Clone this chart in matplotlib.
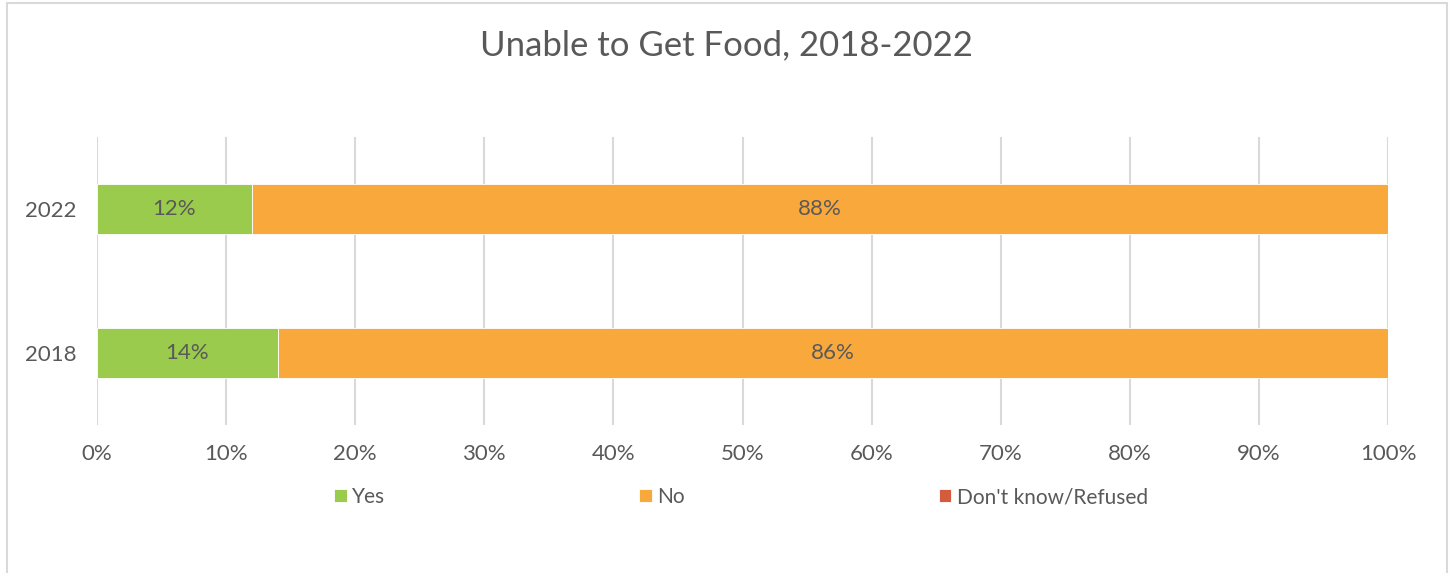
"""Stacked horizontal bar: Unable to Get Food, 2018-2022."""
import matplotlib.pyplot as plt
from matplotlib.patches import Rectangle
from matplotlib.ticker import PercentFormatter, MultipleLocator

YEARS = ["2018", "2022"]
YES = [14, 12]
NO = [86, 88]
DONT_KNOW = [0, 0]

SERIES_LABELS = ["Yes", "No", "Don't know/Refused"]
SERIES_COLORS = ["#9BCB4C", "#F9A83C", "#D55B3E"]
TEXT_COLOR = "#595959"

plt.rcParams["font.family"] = ["Lato", "DejaVu Sans"]

fig = plt.figure(figsize=(14.53, 5.73), dpi=100)
ax = fig.add_axes([97 / 1453, 1 - 425 / 573, 1291 / 1453, 288 / 573])

# chart border
fig.patches.append(Rectangle((7 / 1453, -0.05), 1440 / 1453, 1.05 - 3 / 573,
                             transform=fig.transFigure, fill=False,
                             edgecolor="#D9D9D9", linewidth=1.5))

left = [0] * len(YEARS)
for vals, label, color in zip([YES, NO, DONT_KNOW], SERIES_LABELS, SERIES_COLORS):
    bars = ax.barh(YEARS, vals, left=left, height=0.354, color=color,
                   label=label, edgecolor="white", linewidth=0.6, zorder=3)
    for b, v in zip(bars, vals):
        if v > 0:
            ax.text(b.get_x() + b.get_width() / 2, b.get_y() + b.get_height() / 2,
                    f"{v}%", ha="center", va="center", fontsize=16,
                    color=TEXT_COLOR, zorder=4)
    left = [l + v for l, v in zip(left, vals)]

ax.set_xlim(0, 100)
ax.set_ylim(-0.5, 1.5)
ax.xaxis.set_major_locator(MultipleLocator(10))
ax.xaxis.set_major_formatter(PercentFormatter(decimals=0))
ax.grid(True, axis="x", color="#D9D9D9", linewidth=1.5, zorder=0)
ax.set_axisbelow(True)
for s in ax.spines.values():
    s.set_visible(False)
ax.tick_params(axis="both", length=0, labelsize=16, labelcolor=TEXT_COLOR)
ax.tick_params(axis="x", pad=14)
ax.tick_params(axis="y", pad=15)

fig.text(0.5, 1 - 45 / 573, "Unable to Get Food, 2018-2022", ha="center",
         va="center", fontsize=25, color=TEXT_COLOR)

fig.legend(loc="center", bbox_to_anchor=(0.51, 1 - 497 / 573), ncol=3,
           frameon=False, fontsize=15, labelcolor=TEXT_COLOR,
           handlelength=0.6, handleheight=0.6, handletextpad=0.25,
           columnspacing=12.2)

fig.savefig("out.png", dpi=100)
